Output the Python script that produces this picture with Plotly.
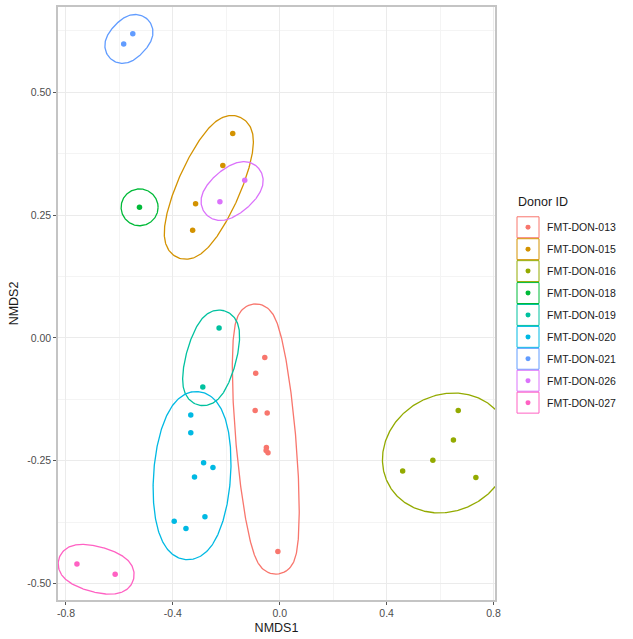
import numpy as np
import plotly.graph_objects as go

# ---------------- data ----------------
groups = ["FMT-DON-013", "FMT-DON-015", "FMT-DON-016", "FMT-DON-018", "FMT-DON-019",
          "FMT-DON-020", "FMT-DON-021", "FMT-DON-026", "FMT-DON-027"]
colors = ["#F8766D", "#D39200", "#93AA00", "#00BA38", "#00C19F",
          "#00B9E3", "#619CFF", "#DB72FB", "#FF61C3"]

nmds1 = {
    "FMT-DON-013": [-0.056, -0.090, -0.092, -0.047, -0.050, -0.044, -0.051, -0.007],
    "FMT-DON-015": [-0.176, -0.213, -0.315, -0.326],
    "FMT-DON-016": [0.668, 0.650, 0.573, 0.460, 0.734],
    "FMT-DON-018": [-0.525],
    "FMT-DON-019": [-0.227, -0.288],
    "FMT-DON-020": [-0.333, -0.333, -0.285, -0.250, -0.319, -0.280, -0.395, -0.351],
    "FMT-DON-021": [-0.584, -0.550],
    "FMT-DON-026": [-0.131, -0.224],
    "FMT-DON-027": [-0.759, -0.616],
}
nmds2 = {
    "FMT-DON-013": [-0.040, -0.072, -0.148, -0.153, -0.223, -0.234, -0.229, -0.435],
    "FMT-DON-015": [0.416, 0.351, 0.273, 0.219],
    "FMT-DON-016": [-0.148, -0.208, -0.249, -0.271, -0.284],
    "FMT-DON-018": [0.266],
    "FMT-DON-019": [0.020, -0.100],
    "FMT-DON-020": [-0.157, -0.193, -0.254, -0.264, -0.283, -0.364, -0.373, -0.388],
    "FMT-DON-021": [0.598, 0.619],
    "FMT-DON-026": [0.321, 0.277],
    "FMT-DON-027": [-0.460, -0.481],
}

# ellipse centres (data units)
ell_cx = {"FMT-DON-013": -0.0523, "FMT-DON-015": -0.2654, "FMT-DON-016": 0.6243,
          "FMT-DON-018": -0.5245, "FMT-DON-019": -0.2568, "FMT-DON-020": -0.3282,
          "FMT-DON-021": -0.5645, "FMT-DON-026": -0.1783, "FMT-DON-027": -0.6871}
ell_cy = {"FMT-DON-013": -0.2059, "FMT-DON-015": 0.3063, "FMT-DON-016": -0.2343,
          "FMT-DON-018": 0.2657, "FMT-DON-019": -0.0406, "FMT-DON-020": -0.2803,
          "FMT-DON-021": 0.6085, "FMT-DON-026": 0.2988, "FMT-DON-027": -0.4710}

x_tickvals = [-0.8, -0.4, 0.0, 0.4, 0.8]
x_ticktext = ["-0.8", "-0.4", "0.0", "0.4", "0.8"]
y_tickvals = [-0.50, -0.25, 0.00, 0.25, 0.50]
y_ticktext = ["-0.50", "-0.25", "0.00", "0.25", "0.50"]

# ---------------- layout geometry ----------------
W, H = 633, 639
ML, MR, MT, MB = 58, 138, 5, 39
XR = [-0.8299, 0.8056]
YR = [-0.5335, 0.6734]
plot_w = W - ML - MR
plot_h = H - MT - MB
sx = plot_w / (XR[1] - XR[0])
sy = plot_h / (YR[1] - YR[0])

# mark-ellipse outline in screen pixels: outer semi-major, semi-minor, angle (deg, y down)
ell_shape = {"FMT-DON-013": (136, 30, -94.9), "FMT-DON-015": (77, 31, -66),
             "FMT-DON-016": (66, 58, -30), "FMT-DON-018": (18.5, 18.5, 0),
             "FMT-DON-019": (49, 25, -74.6), "FMT-DON-020": (84.5, 38.5, -86),
             "FMT-DON-021": (27, 19.5, -47), "FMT-DON-026": (35, 22.5, -41),
             "FMT-DON-027": (38.7, 22.7, 15.5)}
EXPAND = 17.0  # offset (px) of the outline from the enclosing ellipse

fig = go.Figure()
t = np.linspace(0, 2 * np.pi, 360)
for g, c in zip(groups, colors):
    a, b, ang = ell_shape[g]
    a0 = max(a - EXPAND, 0.3)
    b0 = max(b - EXPAND, 0.3)
    lx = a0 * np.cos(t)
    ly = b0 * np.sin(t)
    nx = b0 * np.cos(t)
    ny = a0 * np.sin(t)
    nn = np.hypot(nx, ny)
    lx = lx + EXPAND * nx / nn
    ly = ly + EXPAND * ny / nn
    th = np.deg2rad(ang)
    dx = lx * np.cos(th) - ly * np.sin(th)
    dy = lx * np.sin(th) + ly * np.cos(th)
    ex = ell_cx[g] + dx / sx
    ey = ell_cy[g] - dy / sy
    fig.add_trace(go.Scatter(x=ex, y=ey, mode="lines", line=dict(color=c, width=1.3),
                             hoverinfo="skip", showlegend=False))
for g, c in zip(groups, colors):
    fig.add_trace(go.Scatter(x=nmds1[g], y=nmds2[g], mode="markers", name=g,
                             marker=dict(color=c, size=5.5), showlegend=False))

# ---------------- manual legend ----------------
def px2paper(px, py):
    return (px - ML) / plot_w, (H - MB - py) / plot_h

shapes = []
annotations = []
tx, ty = px2paper(516, 201)
annotations.append(dict(x=tx, y=ty, xref="paper", yref="paper", text="Donor ID",
                        showarrow=False, xanchor="left", yanchor="middle",
                        font=dict(size=12.5, color="#1a1a1a")))
for i, (g, c) in enumerate(zip(groups, colors)):
    yc = 226 + 22 * i
    x0, y0 = px2paper(517, yc + 10.5)
    x1, y1 = px2paper(539, yc - 10.5)
    shapes.append(dict(type="rect", xref="paper", yref="paper", x0=x0, y0=y0, x1=x1, y1=y1,
                       line=dict(color=c, width=1), fillcolor="white"))
    cx0, cy0 = px2paper(525.5, yc + 2.5)
    cx1, cy1 = px2paper(530.5, yc - 2.5)
    shapes.append(dict(type="circle", xref="paper", yref="paper", x0=cx0, y0=cy0, x1=cx1, y1=cy1,
                       line=dict(color=c, width=0), fillcolor=c))
    lx_, ly_ = px2paper(545, yc)
    annotations.append(dict(x=lx_, y=ly_, xref="paper", yref="paper", text=g, showarrow=False,
                            xanchor="left", yanchor="middle",
                            font=dict(size=10.5, color="#1a1a1a")))

axis_common = dict(showline=True, mirror=True, linecolor="#c4c4c4", linewidth=1.5,
                   showgrid=True, gridcolor="#ebebeb", gridwidth=1, zeroline=False,
                   ticks="outside", ticklen=3, tickcolor="#555555", tickwidth=1,
                   tickfont=dict(size=10.5, color="#4d4d4d"), tickmode="array")

fig.update_layout(
    width=W, height=H,
    margin=dict(l=ML, r=MR, t=MT, b=MB, pad=0),
    paper_bgcolor="white", plot_bgcolor="white",
    font=dict(family="Liberation Sans, Arial, sans-serif"),
    xaxis=dict(range=XR, tickvals=x_tickvals, ticktext=x_ticktext,
               title=dict(text="NMDS1", font=dict(size=12.5, color="#1a1a1a"), standoff=5),
               minor=dict(tickvals=[-0.6, -0.2, 0.2, 0.6], showgrid=True,
                          gridcolor="#f4f4f4", ticklen=0),
               **axis_common),
    yaxis=dict(range=YR, tickvals=y_tickvals, ticktext=y_ticktext,
               title=dict(text="NMDS2", font=dict(size=12.5, color="#1a1a1a"), standoff=6),
               minor=dict(tickvals=[-0.375, -0.125, 0.125, 0.375, 0.625], showgrid=True,
                          gridcolor="#f4f4f4", ticklen=0),
               **axis_common),
    shapes=shapes, annotations=annotations,
)

fig.write_html("out.html")
